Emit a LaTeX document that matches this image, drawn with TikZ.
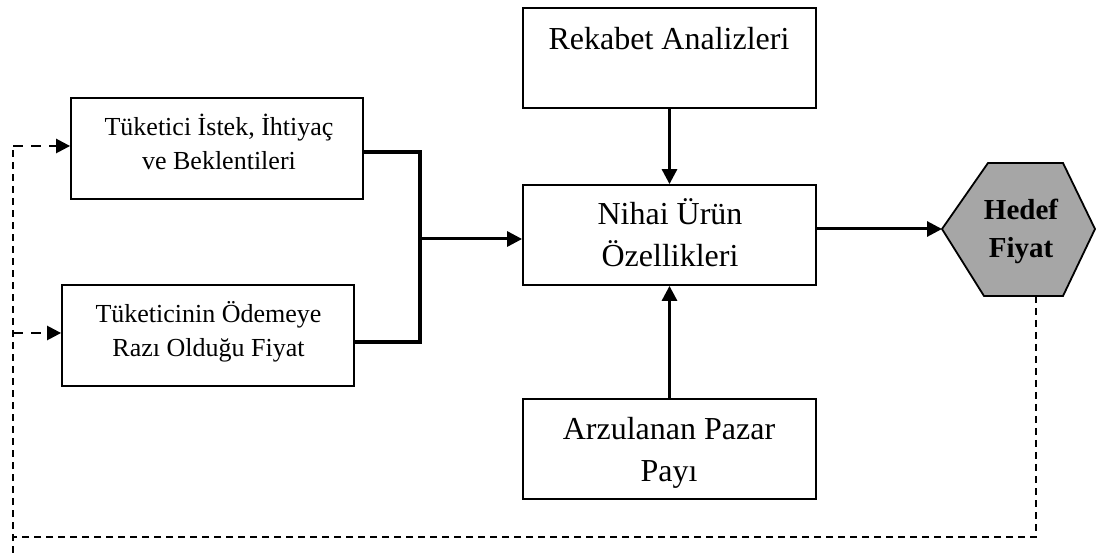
\documentclass[tikz,border=0pt]{standalone}
\usepackage{fontspec}
\setmainfont{Liberation Serif}
\usetikzlibrary{arrows.meta}
\definecolor{hexgray}{RGB}{166,166,166}
\tikzset{
  bigbox/.style={draw, line width=1.8pt, minimum width=293pt, minimum height=100pt, inner sep=0pt},
  smallbox/.style={draw, line width=1.8pt, minimum width=292pt, minimum height=101pt, inner sep=0pt},
  bigtxt/.style={align=center, inner sep=0pt, font={\fontsize{32pt}{42pt}\selectfont}},
  smalltxt/.style={align=center, inner sep=0pt, font={\fontsize{26pt}{34.5pt}\selectfont}},
  hextxt/.style={align=center, inner sep=0pt, font={\fontsize{29pt}{38pt}\selectfont\bfseries}},
  flow/.style={line width=3pt, -{Triangle[length=15pt,width=15pt]}},
  bracket/.style={line width=4pt, line join=miter},
  feedback/.style={line width=2pt, dash pattern=on 7pt off 5pt},
  fbarrow/.style={line width=2.5pt, dash pattern=on 10pt off 8pt, -{Triangle[length=14pt,width=14pt]}},
}
\begin{document}
\begin{tikzpicture}[x=1pt,y=-1pt]
\useasboundingbox (0,0) rectangle (1096,553);

% boxes
\node[bigbox] (rekabet) at (669.5,58) {};
\node[bigbox] (nihai) at (669.5,235) {};
\node[bigbox] (pazar) at (669.5,449) {};
\node[smallbox] (tuk) at (217,148.5) {};
\node[smallbox] (tukodeme) at (208,335.5) {};

% box texts
\node[bigtxt] (rekabet-t) at (669,62.6) {Rekabet Analizleri\strut\\\strut};
\node[bigtxt] (nihai-t) at (670,237.6) {Nihai Ürün\strut\\Özellikleri\strut};
\node[bigtxt] (pazar-t) at (669,452.6) {Arzulanan Pazar\strut\\Payı\strut};
\node[smalltxt] (tuk-t) at (219,145.4) {Tüketici İstek, İhtiyaç\strut\\ve Beklentileri\strut};
\node[smalltxt] (tukodeme-t) at (208.5,332.4) {Tüketicinin Ödemeye\strut\\Razı Olduğu Fiyat\strut};

% target price hexagon
\coordinate (hexL) at (942,229);
\coordinate (hexTL) at (988,163);
\coordinate (hexTR) at (1063,163);
\coordinate (hexR) at (1095,229);
\coordinate (hexBR) at (1063,296);
\coordinate (hexBL) at (984,296);
\draw[line width=1.8pt, fill=hexgray, line join=miter] (hexL) -- (hexTL) -- (hexTR) -- (hexR) -- (hexBR) -- (hexBL) -- cycle;
\node[hextxt] (hedef) at (1021,231.4) {Hedef\strut\\Fiyat\strut};

% consumer inputs joined into one arrow
\coordinate (join) at (420,239);
\draw[bracket] ([yshift=-3.5pt]tuk.east) -| (join) |- ([yshift=-6.5pt]tukodeme.east);
\draw[flow] (join) -- (join -| nihai.west);

% vertical inputs
\draw[flow] (rekabet.south) -- (nihai.north);
\draw[flow] (pazar.north) -- (nihai.south);

% output to target price
\draw[flow] (nihai.east |- hexL) -- (hexL);

% feedback loop
\coordinate (hexB) at (1036,296);
\coordinate (loopR) at (1036,537);
\coordinate (loopL) at (13,537);
\coordinate (loopT) at (13,146);
\coordinate (loopM) at (13,333);
\coordinate (loopEnd) at (13,553);
\draw[feedback] (hexB) -- (loopR) -- (loopL);
\draw[feedback] (loopEnd) -- (loopT);
\draw[fbarrow] (loopT) -- (loopT -| tuk.west);
\draw[fbarrow] (loopM) -- (loopM -| tukodeme.west);
\end{tikzpicture}
\end{document}
